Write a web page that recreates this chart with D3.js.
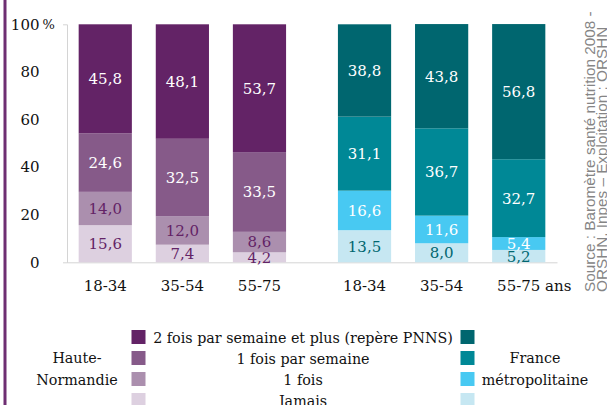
<!DOCTYPE html>
<html>
<head>
<meta charset="utf-8">
<script src="https://cdn.jsdelivr.net/npm/d3@7"></script>
<style>
    body { margin: 0; background: #fff; }
    svg { display: block; }
</style>
</head>
<body>
<svg id="chart" width="607" height="405"></svg>
<script>
const ageGroups = ["18-34", "35-54", "55-75"];
const regions = ["Haute-Normandie", "France métropolitaine"];
const frequencies = ["2 fois par semaine et plus (repère PNNS)", "1 fois par semaine", "1 fois", "Jamais"];

// Haute-Normandie, % by age group
const hnTwicePlus = [45.8, 48.1, 53.7];
const hnWeekly = [24.6, 32.5, 33.5];
const hnOnce = [14.0, 12.0, 8.6];
const hnNever = [15.6, 7.4, 4.2];

// France métropolitaine, % by age group
const frTwicePlus = [38.8, 43.8, 56.8];
const frWeekly = [31.1, 36.7, 32.7];
const frOnce = [16.6, 11.6, 5.4];
const frNever = [13.5, 8.0, 5.2];

const yTicks = [0, 20, 40, 60, 80, 100];

const hnColors = ["#632366", "#865a89", "#ab8fae", "#ddd0e0"];
const frColors = ["#00666f", "#008896", "#48c9f2", "#c6e7f2"];
const hnDark = "#632366";
const frDark = "#00666f";

const SERIF = "DejaVu Serif";
const SANS = "Liberation Sans";
const fontSize = 15;

const svg = d3.select("#chart").attr("font-family", SERIF);

// purple border on the left
svg.append("rect")
    .attr("x", 3.5).attr("y", 0)
    .attr("width", 3).attr("height", 405)
    .attr("fill", "#6e2e72");

const plotLeft = 67, plotRight = 557;
const yScale = d3.scaleLinear().domain([0, 100]).range([262.3, 24.3]);

const xOuter = d3.scaleBand()
    .domain(regions)
    .range([plotLeft, plotRight])
    .paddingInner(0.2)
    .paddingOuter(0.045);

const xInner = d3.scaleBand()
    .domain(ageGroups)
    .range([0, xOuter.bandwidth()])
    .paddingInner(0.31)
    .paddingOuter(0);

// keys bottom to top
const keys = ["never", "once", "weekly", "twice"];
function rows(twice, weekly, once, never) {
    return ageGroups.map((age, i) => ({
        age: age, twice: twice[i], weekly: weekly[i], once: once[i], never: never[i]
    }));
}
const regionData = [
    { region: regions[0], rows: rows(hnTwicePlus, hnWeekly, hnOnce, hnNever), colors: hnColors, dark: hnDark },
    { region: regions[1], rows: rows(frTwicePlus, frWeekly, frOnce, frNever), colors: frColors, dark: frDark }
];

const stack = d3.stack().keys(keys);
const fmt = v => d3.format(".1f")(v).replace(".", ",");
const colorIndex = { twice: 0, weekly: 1, once: 2, never: 3 };

// x axis baseline
svg.append("g")
    .attr("transform", `translate(0,${yScale(0)})`)
    .call(d3.axisBottom(xOuter).tickValues([]).tickSizeOuter(0))
    .call(g => g.select(".domain").attr("stroke", "#d4d4d4"));

// y axis
svg.append("g")
    .attr("transform", `translate(${plotLeft},0)`)
    .call(d3.axisLeft(yScale)
        .tickValues(yTicks)
        .tickSizeInner(0)
        .tickSizeOuter(4)
        .tickPadding(27.5)
        .tickFormat(d3.format("d")))
    .call(g => g.attr("font-family", SERIF).attr("font-size", fontSize))
    .call(g => g.select(".domain").attr("stroke", "#d4d4d4"))
    .call(g => g.selectAll(".tick text").attr("fill", "#111"))
    .call(g => g.selectAll(".tick").filter(d => d === 100)
        .append("text")
        .attr("x", -24.5)
        .attr("dy", "0.32em")
        .attr("text-anchor", "start")
        .attr("font-size", 13)
        .attr("fill", "#111")
        .text("%"));

regionData.forEach((rd, ri) => {
    const g = svg.append("g")
        .attr("transform", `translate(${xOuter(rd.region)},0)`);

    const series = stack(rd.rows);

    series.forEach(s => {
        const ci = colorIndex[s.key];
        const light = s.key === "never" || (s.key === "once" && ri === 0);
        g.selectAll(null)
            .data(s)
            .enter()
            .append("rect")
            .attr("x", d => xInner(d.data.age))
            .attr("y", d => yScale(d[1]))
            .attr("width", xInner.bandwidth())
            .attr("height", d => yScale(d[0]) - yScale(d[1]))
            .attr("fill", rd.colors[ci]);

        g.selectAll(null)
            .data(s)
            .enter()
            .append("text")
            .attr("x", d => xInner(d.data.age) + xInner.bandwidth() / 2)
            .attr("y", d => yScale((d[0] + d[1]) / 2))
            .attr("dy", "0.36em")
            .attr("text-anchor", "middle")
            .attr("font-size", fontSize)
            .attr("fill", light ? rd.dark : "#fff")
            .text(d => fmt(d.data[s.key]));
    });

    // age labels
    const ax = g.append("g")
        .attr("transform", `translate(0,${yScale(0)})`)
        .call(d3.axisBottom(xInner).tickSize(0).tickPadding(18));
    ax.attr("font-family", SERIF).attr("font-size", fontSize);
    ax.select(".domain").remove();
    ax.selectAll(".tick text").attr("fill", "#111");
    if (ri === 1) {
        // keep "55-75" centred under the bar and let " ans" run on
        const last = ax.selectAll(".tick text")
            .filter(d => d === ageGroups[ageGroups.length - 1]);
        const w = last.node().getComputedTextLength();
        last.attr("text-anchor", "start")
            .attr("x", -w / 2)
            .text(ageGroups[ageGroups.length - 1] + " ans");
    }
});

// legend
const legendTop = 330, legendStep = 21, sw = 14;
const legend = svg.append("g").attr("font-size", 14.3).attr("fill", "#111");

frequencies.forEach((f, i) => {
    const y = legendTop + i * legendStep;
    legend.append("rect")
        .attr("x", 131.5).attr("y", y)
        .attr("width", sw).attr("height", sw)
        .attr("fill", hnColors[i]);
    legend.append("rect")
        .attr("x", 460.5).attr("y", y)
        .attr("width", sw).attr("height", sw)
        .attr("fill", frColors[i]);
    legend.append("text")
        .attr("x", 303).attr("y", y + 12.5)
        .attr("text-anchor", "middle")
        .text(f);
});

const regionLabels = [["Haute-", "Normandie"], ["France", "métropolitaine"]];
const regionLabelX = [77, 535];
regionLabels.forEach((lines, i) => {
    lines.forEach((t, j) => {
        legend.append("text")
            .attr("x", regionLabelX[i])
            .attr("y", 363 + j * 21.5)
            .attr("text-anchor", "middle")
            .text(t);
    });
});

// source, rotated
const sourceLines = ["Source : Baromètre santé nutrition 2008 -", "ORSHN, Inpes – Exploitation : ORSHN"];
sourceLines.forEach((t, i) => {
    svg.append("text")
        .attr("transform", `translate(${595 + i * 11.5},292) rotate(-90)`)
        .attr("font-family", SANS)
        .attr("font-size", 15.3)
        .attr("fill", "#858585")
        .text(t);
});
</script>
</body>
</html>
